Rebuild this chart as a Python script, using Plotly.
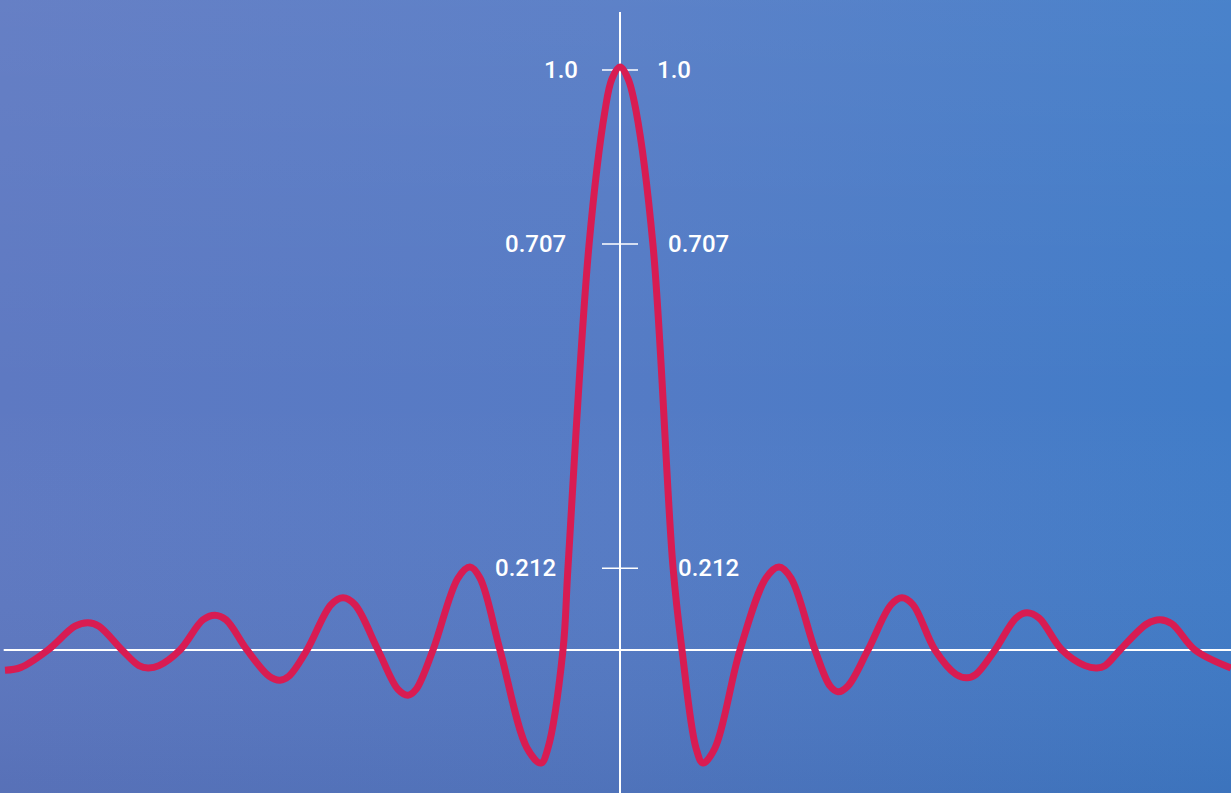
import base64
import plotly.graph_objects as go

# Curve (x: horizontal position, y: amplitude)
curve_x = [-6.15, -5.99, -5.72, -5.45, -5.32, -5.21, -4.98, -4.81, -4.72, -4.61, -4.40,
           -4.17, -4.05, -3.94, -3.73, -3.51, -3.40, -3.31, -3.13, -2.89, -2.77,
           -2.65, -2.42, -2.22, -2.12, -2.04, -1.87, -1.62, -1.50, -1.40, -1.20,
           -0.93, -0.79, -0.72, -0.57, -0.52, -0.31, -0.15, -0.08, 0.00, 0.08,
           0.16, 0.33, 0.53, 0.62, 0.76, 0.83, 0.95, 1.20, 1.46, 1.59,
           1.71, 1.95, 2.10, 2.18, 2.28, 2.48, 2.71, 2.82, 2.93, 3.15,
           3.36, 3.47, 3.56, 3.75, 3.96, 4.07, 4.19, 4.42, 4.65, 4.77,
           4.85, 5.00, 5.27, 5.40, 5.52, 5.75, 6.11]
curve_y = [-0.035, -0.030, 0.000, 0.041, 0.047, 0.041, 0.000, -0.027, -0.031, -0.027, 0.000,
           0.052, 0.060, 0.052, 0.000, -0.045, -0.052, -0.045, 0.000, 0.078, 0.090,
           0.078, 0.000, -0.068, -0.078, -0.068, 0.000, 0.124, 0.143, 0.124, 0.000,
           -0.169, -0.195, -0.169, 0.000, 0.143, 0.698, 0.930, 0.985, 1.005, 0.985,
           0.930, 0.698, 0.143, 0.000, -0.169, -0.195, -0.169, 0.000, 0.124, 0.143,
           0.124, 0.000, -0.062, -0.072, -0.062, 0.000, 0.078, 0.090, 0.078, 0.000,
           -0.042, -0.048, -0.042, 0.000, 0.055, 0.064, 0.055, 0.000, -0.027, -0.031,
           -0.027, 0.000, 0.045, 0.052, 0.045, 0.000, -0.031]

# Marked levels on the vertical axis
tick_values = [1.0, 0.700, 0.141]
tick_labels = ["1.0", "0.707", "0.212"]

# Label placement (style)
left_label_x = [-0.40, -0.52, -0.62]
right_label_x = [0.35, 0.46, 0.56]

X_RANGE = [-6.20, 6.11]
Y_RANGE = [-0.2466, 1.1207]

svg = """<svg xmlns='http://www.w3.org/2000/svg' width='1231' height='793' viewBox='0 0 1231 793' preserveAspectRatio='none'>
<defs>
<linearGradient id='h' x1='0' y1='0' x2='1' y2='0'>
<stop offset='0' stop-color='rgb(94,121,194)'/>
<stop offset='0.5' stop-color='rgb(85,123,197)'/>
<stop offset='1' stop-color='rgb(64,124,200)'/>
</linearGradient>
<linearGradient id='v' x1='0' y1='0' x2='0' y2='1'>
<stop offset='0' stop-color='rgb(255,255,255)' stop-opacity='0.05'/>
<stop offset='0.5' stop-color='rgb(255,255,255)' stop-opacity='0'/>
<stop offset='1' stop-color='rgb(0,0,40)' stop-opacity='0.07'/>
</linearGradient>
</defs>
<rect x='0' y='0' width='1231' height='793' fill='url(#h)'/>
<rect x='0' y='0' width='1231' height='793' fill='url(#v)'/>
</svg>"""
bg_uri = "data:image/svg+xml;base64," + base64.b64encode(svg.encode()).decode()

fig = go.Figure()

fig.add_trace(go.Scatter(
    x=curve_x, y=curve_y, mode="lines",
    line=dict(color="#d81c52", width=7, shape="spline", smoothing=1.0),
    hoverinfo="skip", showlegend=False,
))

# Axes (white lines)
fig.add_shape(type="line", xref="paper", yref="y", x0=0.003, x1=1, y0=0, y1=0,
              line=dict(color="white", width=2), layer="below")
fig.add_shape(type="line", xref="x", yref="paper", x0=0, x1=0, y0=0, y1=0.985,
              line=dict(color="white", width=2), layer="below")

for tv, tl, lx, rx in zip(tick_values, tick_labels, left_label_x, right_label_x):
    fig.add_shape(type="line", xref="x", yref="y", x0=-0.18, x1=0.18, y0=tv, y1=tv,
                  line=dict(color="white", width=1.5), layer="below")
    fig.add_annotation(x=lx, y=tv, text=tl, showarrow=False, xanchor="right",
                       yanchor="middle",
                       font=dict(family="Roboto", size=24, color="white", weight=500))
    fig.add_annotation(x=rx, y=tv, text=tl, showarrow=False, xanchor="left",
                       yanchor="middle",
                       font=dict(family="Roboto", size=24, color="white", weight=500))

fig.add_layout_image(dict(source=bg_uri, xref="paper", yref="paper", x=0, y=1,
                          sizex=1, sizey=1, sizing="stretch", layer="below",
                          xanchor="left", yanchor="top"))

fig.update_layout(
    width=1231, height=793,
    margin=dict(l=0, r=0, t=0, b=0),
    paper_bgcolor="rgb(82,124,197)",
    plot_bgcolor="rgba(0,0,0,0)",
    xaxis=dict(range=X_RANGE, visible=False, fixedrange=True),
    yaxis=dict(range=Y_RANGE, visible=False, fixedrange=True),
    showlegend=False,
)

fig.write_html(
    "out.html",
    config={"displayModeBar": False},
    post_script="document.body.style.margin='0';document.body.style.overflow='hidden';",
)
